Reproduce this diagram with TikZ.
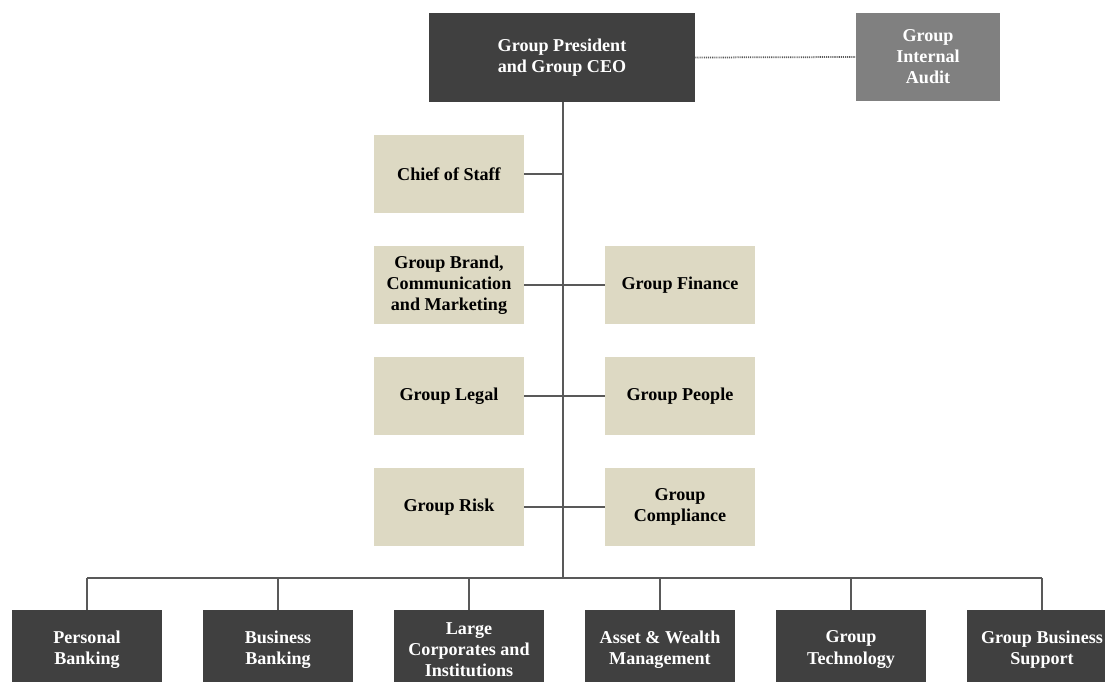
\documentclass[tikz,border=0pt]{standalone}
\usepackage{fontspec}
\setmainfont{Liberation Serif}
\usetikzlibrary{positioning}
\definecolor{boxdark}{RGB}{64,64,64}
\definecolor{boxgray}{RGB}{128,128,128}
\definecolor{boxtan}{RGB}{221,217,195}
\definecolor{linegray}{RGB}{89,89,89}

\begin{document}
\begin{tikzpicture}[x=0.02cm, y=-0.02cm,
    every node/.style={font=\fontsize{10.3}{12}\selectfont\bfseries, align=center, inner sep=0pt},
    unit/.style={fill=boxtan, text=black, minimum width=3cm, minimum height=1.58cm},
    head/.style={fill=boxdark, text=white, minimum width=5.32cm, minimum height=1.78cm},
    biz/.style={fill=boxdark, text=white, minimum width=3cm, minimum height=1.58cm},
    link/.style={draw=linegray, line width=1.3pt}]
  \useasboundingbox (0,0) rectangle (1105,682);
  \clip (0,0) rectangle (1105,682);
  % top
  \node[head] (ceo) at (562,57.5) {Group President\\and Group CEO};
  \node[fill=boxgray, text=white, minimum width=2.88cm, minimum height=1.76cm] (audit) at (928,57) {Group\\Internal\\Audit};
  \draw[linegray, dash pattern=on 0.6pt off 0.6pt, line width=1pt] (ceo.east) -- (audit.west);
  % support functions
  \node[unit] (staff) at (449,174) {Chief of Staff};
  \node[unit] (brand) at (449,285) {Group Brand,\\Communication\\and Marketing};
  \node[unit] (finance) at (680,285) {Group Finance};
  \node[unit] (legal) at (449,396) {Group Legal};
  \node[unit] (people) at (680,396) {Group People};
  \node[unit] (risk) at (449,507) {Group Risk};
  \node[unit] (compl) at (680,507) {Group\\Compliance};
  \coordinate (bus) at (563,578);
  \draw[link] (ceo.south -| bus) -- (bus);
  \foreach \n in {staff,brand,legal,risk} {
    \draw[link] (\n.east) -- (\n.east -| bus);
  }
  \foreach \n in {finance,people,compl} {
    \draw[link] (\n.west) -- (\n.west -| bus);
  }
  % business units
  \foreach \x/\n/\t in {87/pb/{Personal\\Banking}, 278/bb/{Business\\Banking},
      469/lci/{Large\\Corporates and\\Institutions}, 660/awm/{Asset \& Wealth\\Management},
      851/tech/{Group\\Technology}, 1042/gbs/{Group Business\\Support}} {
    \node[biz] (\n) at (\x,649.5) {\t};
    \draw[link] (\n.north) -- (\n.north |- bus);
  }
  \draw[link] (pb.north |- bus) -- (gbs.north |- bus);
\end{tikzpicture}
\end{document}
